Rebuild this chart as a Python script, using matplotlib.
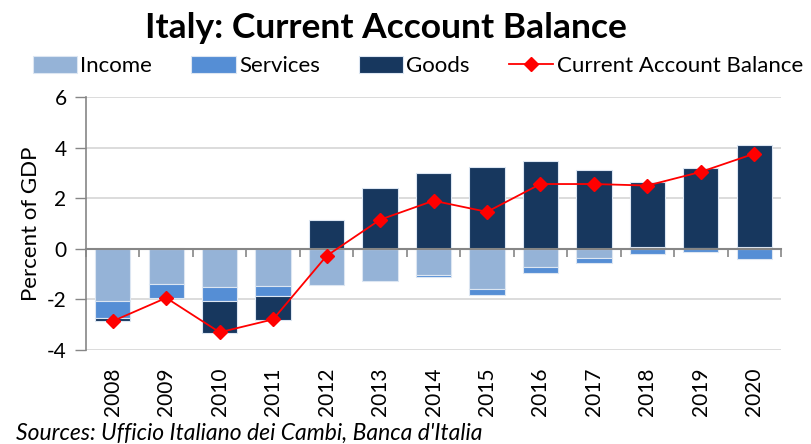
import matplotlib.pyplot as plt
import matplotlib.transforms as mtransforms
import numpy as np

# values (percent of GDP)
years = ["2008", "2009", "2010", "2011", "2012", "2013", "2014",
         "2015", "2016", "2017", "2018", "2019", "2020"]
income = [-2.07, -1.38, -1.51, -1.48, -1.42, -1.29, -1.03,
          -1.58, -0.72, -0.38, 0.07, 0.05, 0.07]
services = [-0.67, -0.58, -0.56, -0.38, 0.0, 0.0, -0.10,
            -0.24, -0.23, -0.20, -0.19, -0.12, -0.40]
goods = [-0.12, 0.03, -1.24, -0.94, 1.13, 2.42, 2.99,
         3.24, 3.47, 3.11, 2.58, 3.13, 4.03]
current_account = [-2.86, -1.94, -3.30, -2.79, -0.28, 1.15, 1.90,
                   1.46, 2.56, 2.56, 2.50, 3.04, 3.76]

plt.rcParams['font.family'] = ['Lato', 'DejaVu Sans']

fig = plt.figure(figsize=(8.11, 4.44), dpi=100)
ax = fig.add_axes([86 / 811, 1 - 350 / 444, 695 / 811, 253 / 444])

x = np.arange(len(years))
width = 0.66
edge = "#dce6f2"

# Excel-style stacking: positives pile up from 0, negatives pile down from 0
pos_base = np.zeros(len(years))
neg_base = np.zeros(len(years))
series = [("Income", income, "#95b3d7"),
          ("Services", services, "#558ed5"),
          ("Goods", goods, "#17375e")]
handles = []
for name, vals, color in series:
    vals = np.array(vals)
    base = np.where(vals >= 0, pos_base, neg_base)
    b = ax.bar(x, vals, width, bottom=base, color=color, edgecolor=edge,
               linewidth=0.8, label=name, zorder=3)
    handles.append(b)
    pos_base = pos_base + np.where(vals >= 0, vals, 0)
    neg_base = neg_base + np.where(vals < 0, vals, 0)

line, = ax.plot(x, current_account, color="red", lw=1.3, marker="D", ms=7,
                label="Current Account Balance", zorder=4)
handles.append(line)

ax.set_xlim(-0.5, len(years) - 0.5)
ax.set_ylim(-4, 6)
ax.set_yticks([-4, -2, 0, 2, 4, 6])
ax.set_yticklabels(["-4", "-2", "0", "2", "4", "6"], fontsize=15)
ax.tick_params(axis="y", length=8, width=1, color="#868686", pad=6)
ax.grid(axis="y", color="#d9d9d9", lw=1.3, zorder=0)
ax.set_axisbelow(True)

for s in ["top", "right"]:
    ax.spines[s].set_visible(False)
ax.spines["left"].set_color("#868686")
ax.spines["left"].set_linewidth(1.2)
ax.spines["bottom"].set_position(("data", 0))
ax.spines["bottom"].set_color("#868686")
ax.spines["bottom"].set_linewidth(1.5)
ax.spines["bottom"].set_zorder(3.5)

# tick marks between categories, labels at the bottom of the plot
ax.set_xticks(np.arange(len(years) + 1) - 0.5)
ax.set_xticklabels([])
ax.tick_params(axis="x", length=6, width=1.2, color="#868686", direction="out")
trans = mtransforms.blended_transform_factory(ax.transData, ax.transAxes)
for i, yr in enumerate(years):
    ax.text(i, -0.07, yr, transform=trans, rotation=90, ha="center",
            va="top", fontsize=15)

ax.set_ylabel("Percent of GDP", fontsize=16, labelpad=4)

fig.text(0.476, 0.937, "Italy: Current Account Balance", ha="center",
         va="center", fontsize=25.5, fontweight="bold")

labels = [h.get_label() for h in handles]
fig.legend(handles, labels, loc="center", bbox_to_anchor=(0.515, 0.851),
           ncol=4, frameon=False, fontsize=16, handlelength=2.0,
           handleheight=0.8, handletextpad=0.15, columnspacing=1.75,
           borderaxespad=0)

fig.text(0.02, 0.025, "Sources: Ufficio Italiano dei Cambi, Banca d'Italia",
         ha="left", va="center", fontsize=16.5, style="italic")

fig.savefig("out.png", dpi=100)
